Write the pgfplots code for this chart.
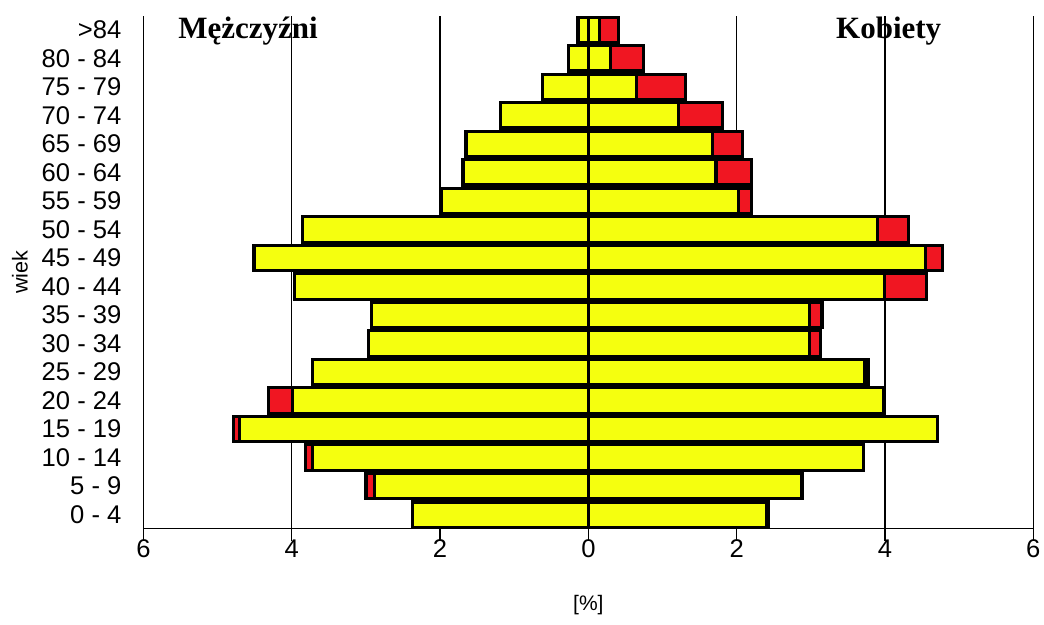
\documentclass[border=0pt]{standalone}
\usepackage{fontspec}
\setmainfont{Liberation Sans}
\newfontfamily\serifbold{Liberation Serif}
\usepackage{pgfplots}
\usepackage{pgfplotstable}
\pgfplotsset{compat=1.18}
\usetikzlibrary{calc}

\definecolor{barY}{RGB}{245,255,15}
\definecolor{barR}{RGB}{240,22,34}

% idx: 0 = 0-4 ... 17 = >84; my/mt = men yellow/total, fy/ft = women yellow/total [%]
\pgfplotstableread{
idx my   mt   fy   ft
0   2.37 2.37 2.40 2.43
1   2.88 3.00 2.88 2.88
2   3.72 3.82 3.71 3.71
3   4.71 4.79 4.71 4.71
4   3.99 4.31 3.98 3.98
5   3.72 3.72 3.73 3.78
6   2.96 2.96 2.98 3.13
7   2.93 2.93 2.98 3.15
8   3.96 3.96 3.99 4.56
9   4.51 4.51 4.55 4.78
10  3.86 3.86 3.90 4.32
11  1.98 1.98 2.02 2.20
12  1.69 1.69 1.72 2.20
13  1.65 1.65 1.67 2.08
14  1.19 1.19 1.22 1.81
15  0.62 0.62 0.65 1.31
16  0.27 0.27 0.30 0.74
17  0.14 0.14 0.15 0.41
}\pyramid

\begin{document}
\begin{tikzpicture}
\begin{axis}[
    name=ax,
    scale only axis,
    width=445pt, height=256.6pt,
    xmin=-6, xmax=6, ymin=-0.5, ymax=17.5,
    xbar, bar shift=0pt, bar width=0.886,
    axis x line*=bottom, axis y line*=left,
    axis line style={line width=0.6pt},
    xtick={-6,-4,-2,0,2,4,6},
    xticklabels={6,4,2,0,2,4,6},
    ytick={0,...,17},
    yticklabels={0 - 4,5 - 9,10 - 14,15 - 19,20 - 24,25 - 29,30 - 34,35 - 39,40 - 44,45 - 49,50 - 54,55 - 59,60 - 64,65 - 69,70 - 74,75 - 79,80 - 84,>84},
    tick align=outside,
    major tick length=6pt,
    ytick style={draw=none},
    xtick style={black, line width=0.6pt},
    xmajorgrids,
    grid style={black, line width=0.6pt},
    tick label style={font=\fontsize{12.8}{14}\selectfont},
    yticklabel style={xshift=-1.5pt},
    xticklabel style={yshift=4pt},
    /pgf/number format/assume math mode=true,
    clip=false,
]
\addplot[fill=barR, draw=black, line width=1.6pt] table[x expr=-\thisrow{mt}, y=idx] {\pyramid};
\addplot[fill=barR, draw=black, line width=1.6pt] table[x=ft, y=idx] {\pyramid};
\addplot[fill=barY, draw=black, line width=1.6pt] table[x expr=-\thisrow{my}, y=idx] {\pyramid};
\addplot[fill=barY, draw=black, line width=1.6pt] table[x=fy, y=idx] {\pyramid};
\node[font=\serifbold\bfseries\fontsize{15.5}{17}\selectfont] at (axis cs:-4.59,16.95) {Mężczyźni};
\node[font=\serifbold\bfseries\fontsize{15.5}{17}\selectfont] at (axis cs:4.05,16.95) {Kobiety};
\end{axis}
\node[font=\fontsize{10.5}{12}\selectfont] at ($(ax.south)+(0,-38pt)$) {[\%]};
\node[font=\fontsize{10.8}{12}\selectfont, rotate=90] at ($(ax.west)+(-61.75pt,0)$) {wiek};
\pgfresetboundingbox
\path ($(ax.south west)+(-71.75pt,-48pt)$) rectangle ($(ax.north east)+(5.35pt,7.85pt)$);
\end{tikzpicture}
\end{document}
